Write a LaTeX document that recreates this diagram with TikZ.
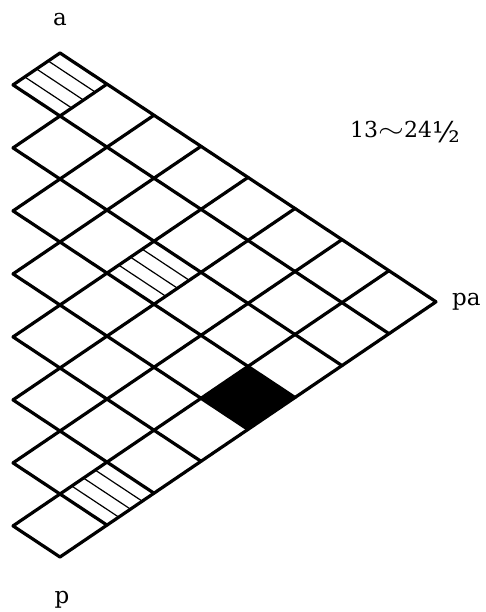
\documentclass[tikz,border=0pt]{standalone}
\usepackage{fontspec}
\setmainfont{DejaVu Serif}
\begin{document}
\begin{tikzpicture}[x=1pt,y=1pt,
  gridline/.style={line width=3.2pt,line cap=round,line join=round},
  hatch/.style={line width=1.2pt},
  lbl/.style={font=\fontsize{23}{26}\selectfont,inner sep=0pt,anchor=base},
  numlbl/.style={font=\fontsize{22}{26}\selectfont,inner sep=0pt,anchor=base}]
\useasboundingbox (0,0) rectangle (485,-612);
\begin{scope}[cm={47,-31.1,-47,-31.9,(60,-53)}]
  % black cell (7,3)
  \fill[black] (7,3) rectangle (8,4);
  % hatched cells
  \foreach \ci/\cj in {0/0,4/2,7/6}{
    \foreach \f in {0.25,0.5,0.75}{
      \draw[hatch] (\ci,\cj+\f) -- (\ci+1,\cj+\f);
    }
  }
  % lines of constant j
  \draw[gridline] (0,0) -- (8,0);
  \foreach \k in {1,...,8}{
    \draw[gridline] (\k-1,\k) -- (8,\k);
  }
  % lines of constant i
  \foreach \k in {0,...,7}{
    \draw[gridline] (\k,0) -- (\k,\k+1);
  }
  \draw[gridline] (8,0) -- (8,8);
\end{scope}
\node[lbl] (a) at (60,-26) {a};
\node[lbl] (p) at (62,-603) {p};
\node[lbl,anchor=base west] (pa) at (452,-305) {pa};
\node[numlbl] (rng) at (405,-138) {13\scalebox{1.6}[1.2]{$\sim$}24\raisebox{-0.2em}{\scalebox{1.3}{½}}};
\end{tikzpicture}
\end{document}
